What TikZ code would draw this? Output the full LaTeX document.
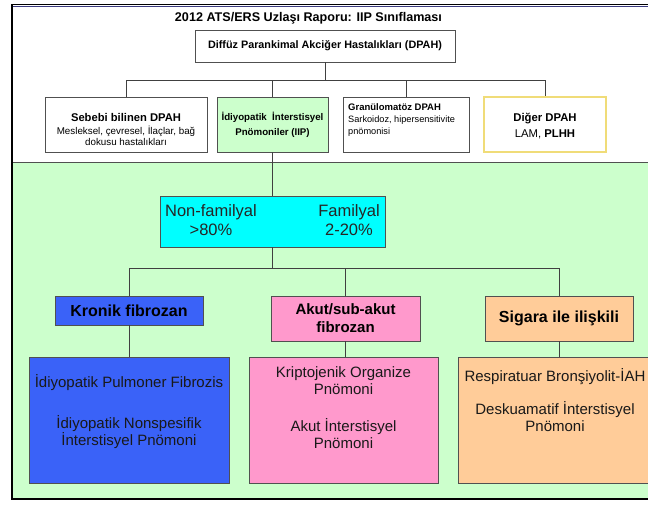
\documentclass[tikz,border=0pt]{standalone}
\usepackage{fontspec}
\setmainfont{Liberation Sans}
\definecolor{greenbg}{HTML}{CCFFCC}
\definecolor{boxgray}{HTML}{505050}
\definecolor{connc}{HTML}{404040}
\definecolor{yellowb}{HTML}{F0DC78}
\definecolor{cyanf}{HTML}{00FFFF}
\definecolor{bluef}{HTML}{3A62F8}
\definecolor{pinkf}{HTML}{FF99CC}
\definecolor{orangef}{HTML}{FFCC99}
\definecolor{darkblue}{HTML}{3A3A80}
\begin{document}
\begin{tikzpicture}[x=1pt,y=-1pt,
  box/.style={draw=boxgray, line width=0.8pt, inner sep=0pt},
  conn/.style={draw=connc, line width=0.7pt},
  lbl/.style={inner sep=0pt, align=center},
  bigtxt/.style={font=\fontsize{15}{17}\selectfont, align=center, inner sep=0pt, text=black!90}
]
\useasboundingbox (0,0) rectangle (648,504);
% background regions
\fill[greenbg] (12,162) rectangle (650,499);
\draw[boxgray, line width=0.9pt] (12,162) -- (650,162);
\draw[black, line width=1.6pt] (12,4.6) -- (650,4.6);
\draw[darkblue, line width=1.0pt] (12,6.6) -- (650,6.6);
\draw[black, line width=2pt] (12,4) -- (12,499) -- (650,499);

% title
\node[lbl, font=\bfseries\fontsize{12.6}{14}\selectfont] (title) at (308.5,18) {2012 ATS/ERS Uzlaşı Raporu: IIP Sınıflaması};

% top level
\node[box, fill=white, minimum width=260, minimum height=32, font=\bfseries\fontsize{10.8}{12}\selectfont] (dpah) at (325,46) {Diffüz Parankimal Akciğer Hastalıkları (DPAH)};

% second row
\node[box, fill=white, minimum width=162, minimum height=55] (seb) at (126,124.5) {};
\node[lbl] (sebtxt) at (126,129.5)
  {{\bfseries\fontsize{11.2}{13}\selectfont Sebebi bilinen DPAH}\\[0.5pt]
   {\fontsize{9.8}{11.5}\selectfont Mesleksel, çevresel, İlaçlar, bağ}\\[-0.5pt]
   {\fontsize{9.8}{11.5}\selectfont dokusu hastalıkları}};
\node[box, fill=greenbg, minimum width=111, minimum height=55, lbl, font=\bfseries\fontsize{9.7}{15}\selectfont] (iip) at (272.5,124.5)
  {İdiyopatik~~İnterstisyel\\Pnömoniler (IIP)};
\node[box, fill=white, minimum width=126, minimum height=55] (gran) at (406,124.5) {};
\node[lbl, anchor=north west, align=left] (grantxt) at (348,103.5)
  {{\bfseries\fontsize{9.5}{11.5}\selectfont Granülomatöz DPAH}\\[0pt]
   {\fontsize{9.2}{11.5}\selectfont Sarkoidoz, hipersensitivite}\\[-0.5pt]
   {\fontsize{9.2}{11.5}\selectfont pnömonisi}};
\node[draw=yellowb, line width=1.2pt, fill=white, inner sep=0pt, minimum width=122, minimum height=55] (diger) at (545,124.5) {};
\node[lbl, font=\fontsize{11.3}{16}\selectfont] (digertxt) at (545,126.5)
  {\textbf{Diğer DPAH}\\LAM, \textbf{PLHH}};

% connectors top
\coordinate (h1) at (325,80);
\draw[conn] (dpah.south) -- (h1);
\draw[conn] (seb.north) -- (seb.north |- h1) -- (diger.north |- h1) -- (diger.north);
\draw[conn] (iip.north) -- (iip.north |- h1);
\draw[conn] (gran.north) -- (gran.north |- h1);

% cyan box
\node[box, fill=cyanf, minimum width=225, minimum height=51] (cyan) at (272.5,221.5) {};
\node[lbl, font=\fontsize{16.5}{19}\selectfont, text=black!85] (nonfam) at (211,220) {Non-familyal\\>80\%};
\node[lbl, font=\fontsize{16.5}{19}\selectfont, text=black!85] (fam) at (349,220) {Familyal\\2-20\%};
\draw[conn] (iip.south) -- (cyan.north);

% third row
\node[box, fill=bluef, minimum width=148, minimum height=29, font=\bfseries\fontsize{16}{18}\selectfont] (kron) at (129,310.5) {Kronik fibrozan};
\node[box, fill=pinkf, minimum width=149, minimum height=45, align=center, font=\bfseries\fontsize{15}{18}\selectfont] (akut) at (345.5,318.5) {Akut/sub-akut\\fibrozan};
\node[box, fill=orangef, minimum width=148, minimum height=45, font=\bfseries\fontsize{16}{18}\selectfont] (sig) at (559,318.5) {Sigara ile ilişkili};

\coordinate (h2) at (272.5,268);
\draw[conn] (cyan.south) -- (h2);
\draw[conn] (kron.north) -- (kron.north |- h2) -- (sig.north |- h2) -- (sig.north);
\draw[conn] (akut.north) -- (akut.north |- h2);

% bottom row
\node[box, fill=bluef, minimum width=200, minimum height=126] (b1) at (129,420) {};
\node[box, fill=pinkf, minimum width=189, minimum height=126] (b2) at (343.5,420) {};
\node[box, fill=orangef, minimum width=194, minimum height=126] (b3) at (555,420) {};

\draw[conn] (kron.south) -- (kron.south |- b1.north);
\draw[conn] (akut.south) -- (akut.south |- b2.north);
\draw[conn] (sig.south) -- (sig.south |- b3.north);

\node[bigtxt, anchor=north] (t1) at (129,374) {İdiyopatik Pulmoner Fibrozis\\[24pt]İdiyopatik Nonspesifik\\İnterstisyel Pnömoni};
\node[bigtxt, anchor=north] (t2) at (343.5,366) {Kriptojenik Organize\\Pnömoni\\[20pt]Akut İnterstisyel\\Pnömoni};
\node[bigtxt, anchor=north] (t3) at (555,368) {Respiratuar Bronşiyolit-İAH\\[16pt]Deskuamatif İnterstisyel\\Pnömoni};
\end{tikzpicture}
\end{document}
